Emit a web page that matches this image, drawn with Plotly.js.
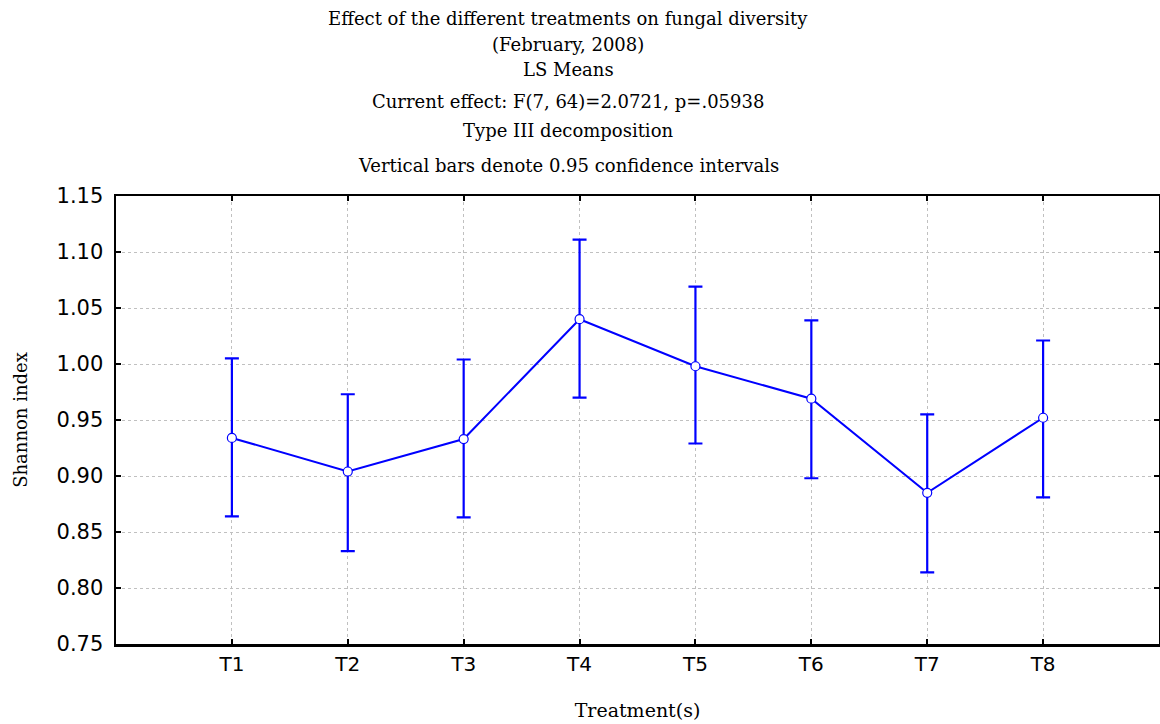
<!DOCTYPE html>
<html>
<head>
<meta charset="utf-8">
<script src="https://cdn.plot.ly/plotly-3.0.1.min.js"></script>
<style>html,body{margin:0;padding:0;background:#fff;}#chart{width:1160px;height:724px;}</style>
</head>
<body>
<div id="chart"></div>
<script>
const categories = ["T1","T2","T3","T4","T5","T6","T7","T8"];
const means = [0.934, 0.904, 0.933, 1.040, 0.998, 0.969, 0.885, 0.952];
const upper = [1.005, 0.973, 1.004, 1.111, 1.069, 1.039, 0.955, 1.021];
const lower = [0.864, 0.833, 0.863, 0.970, 0.929, 0.898, 0.814, 0.881];
const titleLines = [
  "Effect of the different treatments on fungal diversity",
  "(February, 2008)",
  "LS Means",
  "Current effect: F(7, 64)=2.0721, p=.05938",
  "Type III decomposition",
  "Vertical bars denote 0.95 confidence intervals"
];
const yTicks = [0.75,0.80,0.85,0.90,0.95,1.00,1.05,1.10,1.15];

const xPos = categories.map((c,i)=>i+1);
const trace = {
  x: xPos, y: means, type: 'scatter', mode: 'lines+markers',
  line: {color: '#0000ff', width: 2},
  marker: {symbol: 'circle', size: 9, color: '#ffffff', line: {color: '#0000ff', width: 1.2}},
  error_y: {type: 'data', symmetric: false,
    array: upper.map((u,i)=>u-means[i]),
    arrayminus: means.map((m,i)=>m-lower[i]),
    color: '#0000ff', thickness: 2.2, width: 7},
  hoverinfo: 'x+y'
};

const serif = 'DejaVu Serif, serif';
const sans = 'DejaVu Sans, sans-serif';
const M = {l:116, r:1, t:196, b:80};
const plotH = 724 - M.t - M.b;
const plotW = 1160 - M.l - M.r;
const linePix = [18, 44, 69, 101, 131, 165];
const annotations = titleLines.map((t,i)=>({
  text: t, xref: 'paper', yref: 'paper',
  x: (568 - M.l)/plotW, y: (724 - M.b - linePix[i])/plotH,
  xanchor: 'center', yanchor: 'middle', showarrow: false,
  font: {family: serif, size: 18, color: '#000'}
}));

const layout = {
  width: 1160, height: 724,
  margin: M,
  paper_bgcolor: '#fff', plot_bgcolor: '#fff',
  showlegend: false,
  annotations: annotations,
  xaxis: {
    range: [0, 9], tickvals: xPos, ticktext: categories,
    showgrid: true, gridcolor: '#c0c0c0', griddash: 'dot', gridwidth: 1,
    zeroline: false, showline: true, linecolor: '#000', linewidth: 2.5, mirror: 'ticks',
    ticks: 'inside', ticklen: 5, tickwidth: 2, tickcolor: '#000',
    tickfont: {family: sans, size: 20, color: '#000'},
    title: {text: 'Treatment(s)', standoff: 29,
      font: {family: serif, size: 19, color: '#000'}}
  },
  yaxis: {
    range: [0.75, 1.15], tickvals: yTicks, ticktext: yTicks.map(v=>v.toFixed(2)),
    showgrid: true, gridcolor: '#c0c0c0', griddash: 'dot', gridwidth: 1,
    zeroline: false, showline: true, linecolor: '#000', linewidth: 2.5, mirror: 'ticks',
    ticks: 'inside', ticklen: 5, tickwidth: 2, tickcolor: '#000',
    ticklabelstandoff: 6,
    tickfont: {family: sans, size: 21, color: '#000'},
    title: {text: 'Shannon index', standoff: 24,
      font: {family: serif, size: 18, color: '#000'}}
  }
};

Plotly.newPlot('chart', [trace], layout, {displayModeBar: false, staticPlot: true});
</script>
</body>
</html>
